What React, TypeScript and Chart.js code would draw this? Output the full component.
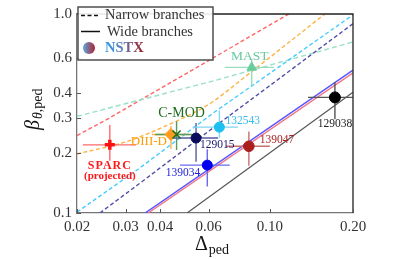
import React, { useEffect, useRef } from "react";
import { Chart, registerables } from "chart.js";
Chart.register(...registerables);

const FONT = "'Liberation Serif', 'Times New Roman', serif";

// axis ticks
const xTickValues = [0.02, 0.03, 0.04, 0.06, 0.1, 0.2];
const xTickLabels = ["0.02", "0.03", "0.04", "0.06", "0.10", "0.20"];
const yTickValues = [0.1, 0.2, 0.3, 0.4, 0.6, 1.0];
const yTickLabels = ["0.1", "0.2", "0.3", "0.4", "0.6", "1.0"];

// narrow branches (dashed)
const narrowRedDelta = [0.02, 0.0261, 0.0396, 0.0627, 0.12];
const narrowRedBeta = [0.245, 0.299, 0.418, 0.605, 1.02];
const narrowMastDelta = [0.02, 0.0627, 0.1995];
const narrowMastBeta = [0.306, 0.462, 0.723];
const narrowDiiidDelta = [0.02, 0.0304, 0.0435, 0.0558, 0.0627, 0.0847, 0.161];
const narrowDiiidBeta = [0.198, 0.229, 0.28, 0.331, 0.366, 0.506, 1.02];
const narrowCyanDelta = [0.02, 0.0333, 0.0627, 0.2];
const narrowCyanBeta = [0.101, 0.166, 0.32, 0.99];
const narrowNavyDelta = [0.0242, 0.0333, 0.0665, 0.2];
const narrowNavyBeta = [0.1, 0.139, 0.287, 0.894];

// wide branches (solid)
const wideBlueDelta = [0.0353, 0.2];
const wideBlueBeta = [0.1, 0.523];
const widePinkDelta = [0.0362, 0.2];
const widePinkBeta = [0.1, 0.506];
const wideBlackDelta = [0.0501, 0.2];
const wideBlackBeta = [0.1, 0.404];

// measured / projected pedestals
const pointNames = ["SPARC", "DIII-D", "C-MOD", "129015", "132543", "139034", "139047", "129038", "MAST"];
const pointDelta = [0.0263, 0.0438, 0.0459, 0.054, 0.0656, 0.0593, 0.0839, 0.172, 0.0859];
const pointBeta = [0.22, 0.248, 0.248, 0.238, 0.27, 0.174, 0.2165, 0.381, 0.539];
const deltaLo = [0.021, 0.0374, 0.0384, 0.0442, 0.0526, 0.0472, 0.0693, 0.1374, 0.0686];
const deltaHi = [0.0327, 0.0513, 0.0535, 0.0649, 0.0766, 0.0715, 0.1, 0.21, 0.1035];
const betaLo = [0.183, 0.21, 0.207, 0.181, 0.239, 0.136, 0.173, 0.296, 0.4375];
const betaHi = [0.277, 0.273, 0.289, 0.283, 0.327, 0.209, 0.257, 0.454, 0.596];

// styles
const markerStyle = ["cross", "rectRot", "crossRot", "circle", "circle", "circle", "circle", "circle", "triangle"];
const markerRadius = [5, 6, 5.7, 5, 5, 5, 5.3, 5.5, 5.5];
const markerFill = ["#ff1010", "#ff9a1a", "#1a6e1a", "#0b0b5c", "#1ec0f0", "#0000ee", "#aa1e1e", "#000000", "#66cc99"];
const markerBorderWidth = [3.5, 1, 1.6, 1, 1, 1, 1, 1, 1];
const errColor = ["#ff6a6a", "#ffb347", "#5a9a5a", "#5a5aa0", "#7fd8f5", "#6a6af0", "#cc6f6f", "#555555", "#99ddc0"];

type LabelSpec = { text: string; dx: number; dy: number; align: CanvasTextAlign; color: string; font: string; spacing?: string };
const labelSpecs: LabelSpec[][] = [
  [
    { text: "SPARC", dx: 0, dy: 21, align: "center", color: "#ff1a1a", font: `bold 12px ${FONT}`, spacing: "1px" },
    { text: "(projected)", dx: 0, dy: 31.5, align: "center", color: "#ff1a1a", font: `bold 11px ${FONT}` },
  ],
  [{ text: "DIII-D", dx: -4, dy: 7.5, align: "right", color: "#ff9900", font: `13px ${FONT}` }],
  [{ text: "C-MOD", dx: 5, dy: -21.5, align: "center", color: "#1d6b1d", font: `14px ${FONT}` }],
  [{ text: "129015", dx: 4, dy: 7, align: "left", color: "#1a1a6e", font: `11.5px ${FONT}` }],
  [{ text: "132543", dx: 6, dy: -6.5, align: "left", color: "#33bbee", font: `11.5px ${FONT}` }],
  [{ text: "139034", dx: -7, dy: 8, align: "right", color: "#2222dd", font: `11.5px ${FONT}` }],
  [{ text: "139047", dx: 11, dy: -6.4, align: "left", color: "#aa2222", font: `11.5px ${FONT}` }],
  [{ text: "129038", dx: 0, dy: 27, align: "center", color: "#222222", font: `11.5px ${FONT}` }],
  [{ text: "MAST", dx: -2, dy: -10.6, align: "center", color: "#66c8a0", font: `13.5px ${FONT}` }],
];

const pts = (xs: number[], ys: number[]) => xs.map((x, i) => ({ x, y: ys[i] }));

const customPlugin = {
  id: "customDraw",
  beforeDatasetDraw(chart: any, args: any) {
    if (args.index !== 0) return;
    const { ctx, chartArea } = chart;
    const xs = chart.scales.x;
    const ys = chart.scales.y;
    ctx.save();
    ctx.beginPath();
    ctx.rect(chartArea.left, chartArea.top, chartArea.right - chartArea.left, chartArea.bottom - chartArea.top);
    ctx.clip();
    ctx.lineWidth = 1.4;
    for (let i = 0; i < pointDelta.length; i++) {
      const px = xs.getPixelForValue(pointDelta[i]);
      const py = ys.getPixelForValue(pointBeta[i]);
      ctx.strokeStyle = errColor[i];
      ctx.beginPath();
      ctx.moveTo(xs.getPixelForValue(deltaLo[i]), py);
      ctx.lineTo(xs.getPixelForValue(deltaHi[i]), py);
      ctx.moveTo(px, ys.getPixelForValue(betaLo[i]));
      ctx.lineTo(px, ys.getPixelForValue(betaHi[i]));
      ctx.stroke();
    }
    ctx.restore();
  },
  afterDatasetsDraw(chart: any) {
    const { ctx } = chart;
    const xs = chart.scales.x;
    const ys = chart.scales.y;
    ctx.save();
    ctx.textBaseline = "middle";
    for (let i = 0; i < pointNames.length; i++) {
      const px = xs.getPixelForValue(pointDelta[i]);
      const py = ys.getPixelForValue(pointBeta[i]);
      for (const l of labelSpecs[i]) {
        ctx.font = l.font;
        ctx.fillStyle = l.color;
        ctx.textAlign = l.align;
        (ctx as any).letterSpacing = l.spacing || "0px";
        ctx.fillText(l.text, px + l.dx, py + l.dy);
      }
    }
    (ctx as any).letterSpacing = "0px";
    ctx.restore();
  },
  afterDraw(chart: any) {
    const { ctx, chartArea } = chart;
    const xs = chart.scales.x;
    const ys = chart.scales.y;
    ctx.save();
    // top / right frame
    ctx.strokeStyle = "#222";
    ctx.lineWidth = 1.3;
    ctx.beginPath();
    ctx.moveTo(chartArea.left, chartArea.top);
    ctx.lineTo(chartArea.right, chartArea.top);
    ctx.lineTo(chartArea.right, chartArea.bottom);
    ctx.stroke();
    // inward ticks
    ctx.strokeStyle = "#555";
    ctx.lineWidth = 1;
    ctx.beginPath();
    for (const v of xTickValues) {
      const px = Math.round(xs.getPixelForValue(v)) + 0.5;
      ctx.moveTo(px, chartArea.bottom);
      ctx.lineTo(px, chartArea.bottom - 4);
    }
    for (const v of yTickValues) {
      const py = Math.round(ys.getPixelForValue(v)) + 0.5;
      ctx.moveTo(chartArea.left, py);
      ctx.lineTo(chartArea.left + 4, py);
    }
    ctx.stroke();

    // legend box
    const bx = 78, by = 7, bw = 135, bh = 53;
    ctx.fillStyle = "rgba(255,255,255,0.9)";
    ctx.fillRect(bx, by, bw, bh);
    ctx.strokeStyle = "#444";
    ctx.lineWidth = 1.4;
    ctx.strokeRect(bx, by, bw, bh);
    ctx.strokeStyle = "#111";
    ctx.lineWidth = 1.5;
    ctx.setLineDash([4, 2.5]);
    ctx.beginPath();
    ctx.moveTo(81, 15.5);
    ctx.lineTo(100, 15.5);
    ctx.stroke();
    ctx.setLineDash([]);
    ctx.beginPath();
    ctx.moveTo(81, 31.5);
    ctx.lineTo(100, 31.5);
    ctx.stroke();
    ctx.fillStyle = "#333";
    ctx.textAlign = "left";
    ctx.textBaseline = "middle";
    ctx.font = `14.5px ${FONT}`;
    ctx.fillText("Narrow branches", 105, 15.5);
    ctx.fillText("Wide branches", 107, 32);
    // gradient circle
    const cg = ctx.createLinearGradient(83, 0, 95, 0);
    cg.addColorStop(0, "#5aa8e0");
    cg.addColorStop(1, "#b22030");
    ctx.fillStyle = cg;
    ctx.beginPath();
    ctx.arc(89, 48, 6, 0, Math.PI * 2);
    ctx.fill();
    ctx.font = `bold 14.5px ${FONT}`;
    const tw = ctx.measureText("NSTX").width;
    const tg = ctx.createLinearGradient(105, 0, 105 + tw, 0);
    tg.addColorStop(0, "#2f9ee8");
    tg.addColorStop(0.45, "#5f7fb8");
    tg.addColorStop(1, "#a01a20");
    ctx.fillStyle = tg;
    ctx.fillText("NSTX", 105, 48.5);

    // axis titles
    ctx.fillStyle = "#111";
    ctx.textBaseline = "alphabetic";
    ctx.textAlign = "left";
    ctx.font = `20px ${FONT}`;
    ctx.fillText("Δ", 195, 250);
    const dw = ctx.measureText("Δ").width;
    ctx.font = `14px ${FONT}`;
    ctx.fillText("ped", 195 + dw + 1, 254);

    ctx.translate(39, 130);
    ctx.rotate(-Math.PI / 2);
    ctx.font = `italic 20px ${FONT}`;
    ctx.fillText("β", 0, 0);
    const bw2 = ctx.measureText("β").width;
    ctx.font = `italic 14px ${FONT}`;
    ctx.fillText("θ", bw2 + 1, 3);
    const tw2 = ctx.measureText("θ").width;
    ctx.font = `14px ${FONT}`;
    ctx.fillText(",ped", bw2 + 1 + tw2, 3);
    ctx.restore();
  },
};

export default function App() {
  const ref = useRef<HTMLCanvasElement | null>(null);
  useEffect(() => {
    if (!ref.current) return;
    const dashed = (data: any, color: string, dash: number[], mono = false) => ({
      type: "line" as const,
      data,
      showLine: true,
      borderColor: color,
      borderWidth: 1.4,
      borderDash: dash,
      pointRadius: 0,
      fill: false,
      cubicInterpolationMode: mono ? ("monotone" as const) : ("default" as const),
    });
    const solid = (data: any, color: string, w = 1.5) => ({
      type: "line" as const,
      data,
      showLine: true,
      borderColor: color,
      borderWidth: w,
      pointRadius: 0,
      fill: false,
    });
    const chart = new Chart(ref.current, {
      type: "scatter",
      data: {
        datasets: [
          {
            data: pts(pointDelta, pointBeta),
            pointStyle: markerStyle as any,
            pointRadius: markerRadius,
            pointBackgroundColor: markerFill,
            pointBorderColor: markerFill,
            pointBorderWidth: markerBorderWidth,
          } as any,
          solid(pts(widePinkDelta, widePinkBeta), "#f07a8a"),
          solid(pts(wideBlueDelta, wideBlueBeta), "#5555ff"),
          solid(pts(wideBlackDelta, wideBlackBeta), "#555555", 1.2),
          dashed(pts(narrowNavyDelta, narrowNavyBeta), "#5050a8", [4, 2.5]),
          dashed(pts(narrowCyanDelta, narrowCyanBeta), "#44ccff", [4, 2.5]),
          dashed(pts(narrowDiiidDelta, narrowDiiidBeta), "#ffb347", [4, 2.5], true),
          dashed(pts(narrowMastDelta, narrowMastBeta), "#99e0c8", [5, 3]),
          dashed(pts(narrowRedDelta, narrowRedBeta), "#ff6666", [4, 2.5]),
        ],
      },
      options: {
        responsive: false,
        animation: false,
        layout: { padding: { left: 0, right: 62, top: 7, bottom: 0 } },
        plugins: { legend: { display: false }, tooltip: { enabled: false } },
        scales: {
          x: {
            type: "logarithmic",
            min: 0.02,
            max: 0.2,
            afterBuildTicks: (s: any) => {
              s.ticks = xTickValues.map((v) => ({ value: v }));
            },
            afterFit: (s: any) => {
              s.height = 46;
            },
            grid: { display: false, drawTicks: false },
            border: { display: true, color: "#777", width: 1.3 },
            ticks: {
              autoSkip: false,
              maxRotation: 0,
              padding: 5,
              color: "#333",
              font: { family: FONT, size: 15 },
              callback: (v: any) => xTickLabels[xTickValues.indexOf(Number(v))] ?? "",
            },
          },
          y: {
            type: "logarithmic",
            min: 0.1,
            max: 1.0,
            afterBuildTicks: (s: any) => {
              s.ticks = yTickValues.map((v) => ({ value: v }));
            },
            afterFit: (s: any) => {
              s.width = 77;
            },
            grid: { display: false, drawTicks: false },
            border: { display: true, color: "#777", width: 1.3 },
            ticks: {
              autoSkip: false,
              padding: 5,
              color: "#333",
              font: { family: FONT, size: 15 },
              callback: (v: any) => yTickLabels[yTickValues.indexOf(Number(v))] ?? "",
            },
          },
        },
      } as any,
      plugins: [customPlugin],
    });
    return () => chart.destroy();
  }, []);
  return (
    <div style={{ position: "absolute", left: 0, top: 0, width: 415, height: 259, background: "#fff" }}>
      <canvas ref={ref} width={415} height={259} />
    </div>
  );
}
